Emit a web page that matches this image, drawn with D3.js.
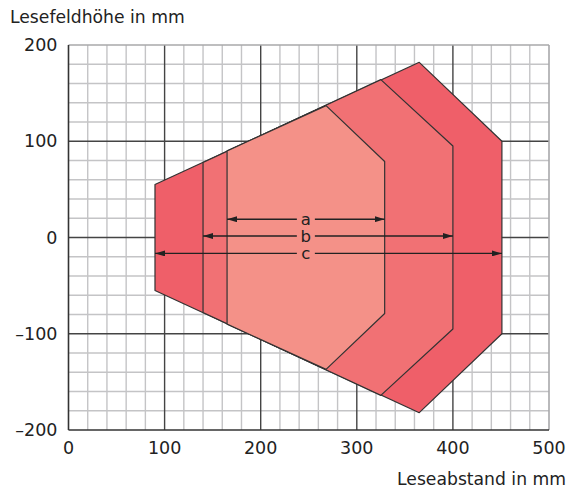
<!DOCTYPE html>
<html>
<head>
<meta charset="utf-8">
<script src="https://cdn.jsdelivr.net/npm/d3@7"></script>
<style>
  body { margin: 0; background: #fff; }
  text { font-family: "DejaVu Sans", sans-serif; fill: #222; }
</style>
</head>
<body>
<div id="chart"></div>
<script>
// axis ticks
var xTicks = [0, 100, 200, 300, 400, 500];
var yTicks = [-200, -100, 0, 100, 200];

// reading field zones (outline points, mm)
var zoneC = [[90, 55], [365, 182], [451, 100], [451, -100], [365, -182], [90, -55]];
var zoneB = [[140, 78], [325, 164], [400, 95], [400, -95], [325, -164], [140, -78]];
var zoneA = [[165, 90], [268, 137], [329, 79], [329, -79], [268, -137], [165, -90]];
var zoneColors = ["#ef5f69", "#f17174", "#f49188"];

// dimension arrows a, b, c
var arrowNames = ["a", "b", "c"];
var arrowY = [19, 1.5, -16.5];
var arrowFrom = [165, 140, 90];
var arrowTo = [329, 400, 451];
var labelX = 247;

var margin = { top: 45, left: 68.5, right: 21, bottom: 63 },
    width = 570 - margin.left - margin.right,
    height = 493 - margin.top - margin.bottom;

var svg = d3.select("#chart").append("svg")
    .attr("width", 570)
    .attr("height", 493);

var g = svg.append("g")
    .attr("transform", "translate(" + margin.left + "," + margin.top + ")");

var x = d3.scaleLinear().domain([0, 500]).range([0, width]);
var y = d3.scaleLinear().domain([-200, 200]).range([height, 0]);

// minor grid every 20 mm
var minorX = d3.range(20, 500, 20).filter(function(d) { return d % 100 != 0; });
var minorY = d3.range(-180, 200, 20).filter(function(d) { return d % 100 != 0; });

g.selectAll(".minx").data(minorX).enter().append("line")
  .attr("x1", function(d) { return x(d); }).attr("x2", function(d) { return x(d); })
  .attr("y1", 0).attr("y2", height)
  .attr("stroke", "#c4c4c6").attr("stroke-width", 1.4);
g.selectAll(".miny").data(minorY).enter().append("line")
  .attr("y1", function(d) { return y(d); }).attr("y2", function(d) { return y(d); })
  .attr("x1", 0).attr("x2", width)
  .attr("stroke", "#c4c4c6").attr("stroke-width", 1.4);

// major grid
g.selectAll(".majx").data(xTicks.slice(1, -1)).enter().append("line")
  .attr("x1", function(d) { return x(d); }).attr("x2", function(d) { return x(d); })
  .attr("y1", 0).attr("y2", height)
  .attr("stroke", "#444").attr("stroke-width", 1.4);
g.selectAll(".majy").data(yTicks.slice(1, -1)).enter().append("line")
  .attr("y1", function(d) { return y(d); }).attr("y2", function(d) { return y(d); })
  .attr("x1", 0).attr("x2", width)
  .attr("stroke", "#444").attr("stroke-width", 1.4);

// top/right frame (light), left/bottom axes (dark)
g.append("line").attr("x1", 0).attr("x2", width).attr("y1", 0).attr("y2", 0)
  .attr("stroke", "#a8a8aa").attr("stroke-width", 1.6);
g.append("line").attr("x1", width).attr("x2", width).attr("y1", 0).attr("y2", height)
  .attr("stroke", "#a8a8aa").attr("stroke-width", 1.6);

// zones
var line = d3.line().x(function(d) { return x(d[0]); }).y(function(d) { return y(d[1]); })
  .curve(d3.curveLinearClosed);
[zoneC, zoneB, zoneA].forEach(function(z, i) {
  g.append("path").attr("d", line(z))
    .attr("fill", zoneColors[i])
    .attr("stroke", "#333").attr("stroke-width", 1.2)
    .attr("stroke-linejoin", "round");
});

g.append("line").attr("x1", 0).attr("x2", width).attr("y1", height).attr("y2", height)
  .attr("stroke", "#333").attr("stroke-width", 1.6);
g.append("line").attr("x1", 0).attr("x2", 0).attr("y1", 0).attr("y2", height)
  .attr("stroke", "#333").attr("stroke-width", 1.6);

// arrows
var defs = svg.append("defs");
defs.append("marker").attr("id", "head")
  .attr("viewBox", "0 0 10 6").attr("refX", 10).attr("refY", 3)
  .attr("markerWidth", 10).attr("markerHeight", 6)
  .attr("markerUnits", "userSpaceOnUse").attr("orient", "auto")
  .append("path").attr("d", "M0,0L10,3L0,6Z").attr("fill", "#222");

arrowNames.forEach(function(n, i) {
  var yy = y(arrowY[i]);
  var cx = x(labelX);
  g.append("line")
    .attr("x1", cx - 9).attr("x2", x(arrowFrom[i]))
    .attr("y1", yy).attr("y2", yy)
    .attr("stroke", "#222").attr("stroke-width", 1.4)
    .attr("marker-end", "url(#head)");
  g.append("line")
    .attr("x1", cx + 9).attr("x2", x(arrowTo[i]))
    .attr("y1", yy).attr("y2", yy)
    .attr("stroke", "#222").attr("stroke-width", 1.4)
    .attr("marker-end", "url(#head)");
  g.append("text")
    .attr("x", cx).attr("y", yy + 5.5)
    .attr("text-anchor", "middle")
    .style("font-size", "16.5px")
    .text(n);
});

// tick labels
g.selectAll(".xl").data(xTicks).enter().append("text")
  .attr("x", function(d) { return x(d); })
  .attr("y", height + 24)
  .attr("text-anchor", "middle")
  .style("font-size", "17.5px")
  .text(function(d) { return d; });

g.selectAll(".yl").data(yTicks).enter().append("text")
  .attr("x", -11)
  .attr("y", function(d) { return y(d) + 6; })
  .attr("text-anchor", "end")
  .style("font-size", "17.5px")
  .text(function(d) { return d < 0 ? "\u2013" + Math.abs(d) : d; });

// axis titles
svg.append("text").attr("x", 10).attr("y", 23)
  .style("font-size", "17.2px")
  .text("Lesefeldhöhe in mm");
svg.append("text").attr("x", 566).attr("y", 485)
  .attr("text-anchor", "end")
  .style("font-size", "17.2px")
  .text("Leseabstand in mm");
</script>
</body>
</html>
